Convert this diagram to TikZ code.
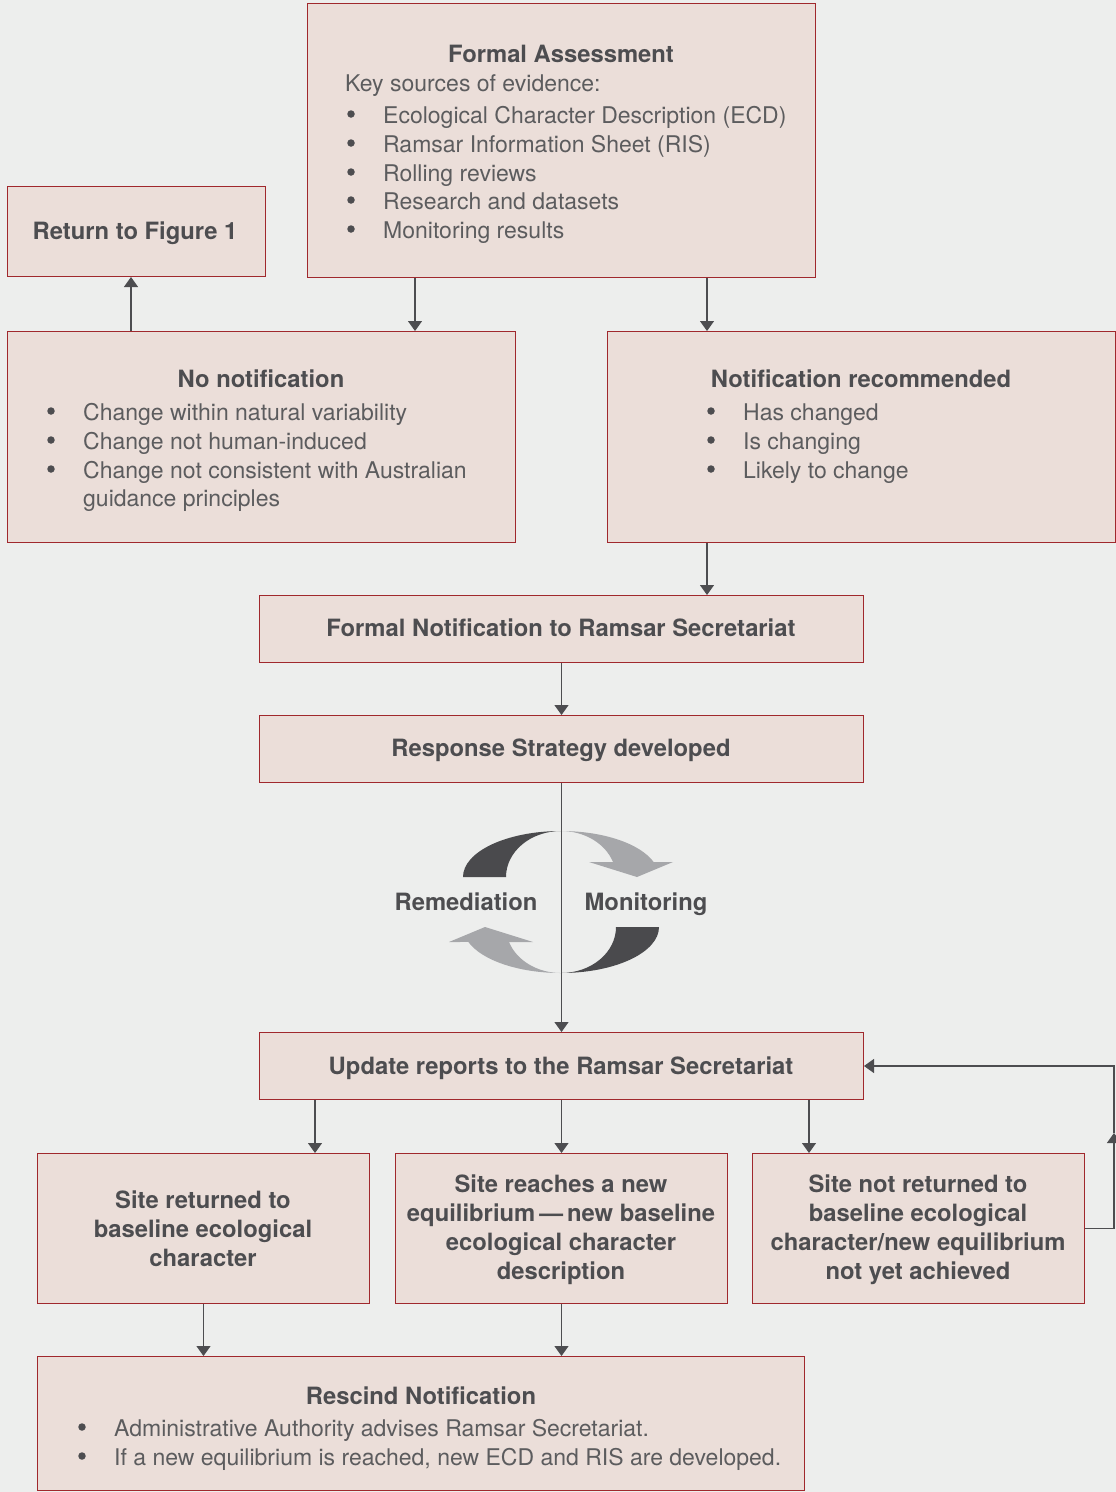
\documentclass[tikz,border=0pt]{standalone}
\usepackage{fontspec}
\setmainfont{TeX Gyre Heros}
\usetikzlibrary{arrows.meta}
\definecolor{bg}{RGB}{237,238,237}
\definecolor{boxfill}{RGB}{235,222,217}
\definecolor{boxline}{RGB}{160,40,45}
\definecolor{txt}{RGB}{77,77,80}
\definecolor{bodytxt}{RGB}{92,92,94}
\definecolor{arr}{RGB}{77,77,80}
\definecolor{cycdark}{RGB}{74,74,77}
\definecolor{cycgray}{RGB}{166,167,170}
\begin{document}
\begin{tikzpicture}[x=1pt,y=-1pt,
  box/.style={draw=boxline, fill=boxfill, line width=1pt, rectangle, inner sep=0pt, anchor=north west},
  ttl/.style={font=\fontsize{23.8}{29}\selectfont\bfseries, text=txt, anchor=base, inner sep=0pt},
  body/.style={font=\fontsize{23}{29}\selectfont, text=bodytxt, anchor=base west, inner sep=0pt},
  bul/.style={circle, fill=txt, minimum size=7.5pt, inner sep=0pt},
  conn/.style={draw=arr, line width=1.2pt, -{Triangle[width=14pt,length=10pt]}},
]
% background / bounding box
\fill[bg] (0,0) rectangle (1116,1492);
\useasboundingbox (0,0) rectangle (1116,1492);

% helper coordinates
\coordinate (c131) at (131,0);
\coordinate (c415) at (415,0);
\coordinate (c707) at (707,0);
\coordinate (c315) at (315,0);
\coordinate (c809) at (809,0);
\coordinate (lp) at (1114,1133);

% boxes
\node[box, minimum width=508, minimum height=274] (fa) at (307,3) {};
\node[box, minimum width=258, minimum height=90] (ret) at (7,186) {};
\node[box, minimum width=508, minimum height=211] (nonot) at (7,331) {};
\node[box, minimum width=508, minimum height=211] (notrec) at (607,331) {};
\node[box, minimum width=604, minimum height=67] (fnot) at (259,595) {};
\node[box, minimum width=604, minimum height=67] (resp) at (259,715) {};
\node[box, minimum width=604, minimum height=67] (upd) at (259,1032) {};
\node[box, minimum width=332, minimum height=150] (sret) at (37,1153) {};
\node[box, minimum width=332, minimum height=150] (sreach) at (395,1153) {};
\node[box, minimum width=332, minimum height=150] (snot) at (752,1153) {};
\node[box, minimum width=767, minimum height=134] (resc) at (37,1356) {};

% Formal Assessment text
\node[ttl] (faT) at (561,62) {Formal Assessment};
\node[body] (faK) at (345,91) {Key sources of evidence:};
\foreach \y/\t [count=\i] in {123/Ecological Character Description (ECD), 152/Ramsar Information Sheet (RIS), 181/Rolling reviews, 209/Research and datasets, 238/Monitoring results}{
  \node[bul] (faB\i) at (351,\y-9) {};
  \node[body] (faL\i) at (383,\y) {\t};
}

% Return to Figure 1
\node[ttl] (retT) at (135,239) {Return to Figure 1};

% No notification
\node[ttl] (nnT) at (261,387) {No notification};
\node[bul] (nnB1) at (51,411) {};
\node[body] (nnL1) at (83,420) {Change within natural variability};
\node[bul] (nnB2) at (51,440) {};
\node[body] (nnL2) at (83,449) {Change not human-induced};
\node[bul] (nnB3) at (51,469) {};
\node[body] (nnL3) at (83,478) {Change not consistent with Australian};
\node[body] (nnL4) at (83,506) {guidance principles};

% Notification recommended
\node[ttl] (nrT) at (861,387) {Notification recommended};
\foreach \y/\t [count=\i] in {420/Has changed, 449/Is changing, 478/Likely to change}{
  \node[bul] (nrB\i) at (711,\y-9) {};
  \node[body] (nrL\i) at (743,\y) {\t};
}

% single line boxes
\node[ttl] (fnotT) at (561,636) {Formal Notification to Ramsar Secretariat};
\node[ttl] (respT) at (561,756) {Response Strategy developed};
\node[ttl] (updT) at (561,1074) {Update reports to the Ramsar Secretariat};

% site boxes
\node[ttl] (sr1) at (203,1208) {Site returned to};
\node[ttl] (sr2) at (203,1237) {baseline ecological};
\node[ttl] (sr3) at (203,1266) {character};

\node[ttl] (sn1) at (561,1192) {Site reaches a new};
\node[ttl] (sn2) at (561,1221) {equilibrium\,—\,new baseline};
\node[ttl] (sn3) at (561,1250) {ecological character};
\node[ttl] (sn4) at (561,1279) {description};

\node[ttl] (st1) at (918,1192) {Site not returned to};
\node[ttl] (st2) at (918,1221) {baseline ecological};
\node[ttl] (st3) at (918,1250) {character/new equilibrium};
\node[ttl] (st4) at (918,1279) {not yet achieved};

% Rescind
\node[ttl] (rsT) at (421,1404) {Rescind Notification};
\node[bul] (rsB1) at (82,1427) {};
\node[body] (rsL1) at (114,1436) {Administrative Authority advises Ramsar Secretariat.};
\node[bul] (rsB2) at (82,1456) {};
\node[body] (rsL2) at (114,1465) {If a new equilibrium is reached, new ECD and RIS are developed.};

% cycle arrows
\fill[cycdark] (463,877) arc[start angle=180,end angle=270,x radius=98,y radius=46]
  arc[start angle=270,end angle=180,x radius=55,y radius=46] -- cycle;
\fill[cycgray] (561,831) arc[start angle=270,end angle=341,x radius=98,y radius=46]
  -- (673,862) -- (637,877) -- (589,862) -- (613,862)
  arc[start angle=341,end angle=270,x radius=55,y radius=46] -- cycle;
\begin{scope}[rotate around={180:(561,902)}]
\fill[cycdark] (463,877) arc[start angle=180,end angle=270,x radius=98,y radius=46]
  arc[start angle=270,end angle=180,x radius=55,y radius=46] -- cycle;
\fill[cycgray] (561,831) arc[start angle=270,end angle=341,x radius=98,y radius=46]
  -- (673,862) -- (637,877) -- (589,862) -- (613,862)
  arc[start angle=341,end angle=270,x radius=55,y radius=46] -- cycle;
\end{scope}
\node[ttl] (remT) at (466,910) {Remediation};
\node[ttl] (monT) at (646,910) {Monitoring};

% connectors
\draw[conn] (fa.south -| c415) -- (nonot.north -| c415);
\draw[conn] (fa.south -| c707) -- (notrec.north -| c707);
\draw[conn] (nonot.north -| c131) -- (ret.south -| c131);
\draw[conn] (notrec.south -| c707) -- (fnot.north -| c707);
\draw[conn] (fnot.south) -- (resp.north);
\draw[conn] (resp.south) -- (upd.north);
\draw[conn] (upd.south -| c315) -- (sret.north -| c315);
\draw[conn] (upd.south) -- (sreach.north);
\draw[conn] (upd.south -| c809) -- (snot.north -| c809);
\draw[conn] (snot.east) -| (lp);
\draw[conn] (lp) |- (upd.east);
\draw[conn] (sret.south) -- (resc.north -| sret.south);
\draw[conn] (sreach.south) -- (resc.north -| sreach.south);
\end{tikzpicture}
\end{document}
